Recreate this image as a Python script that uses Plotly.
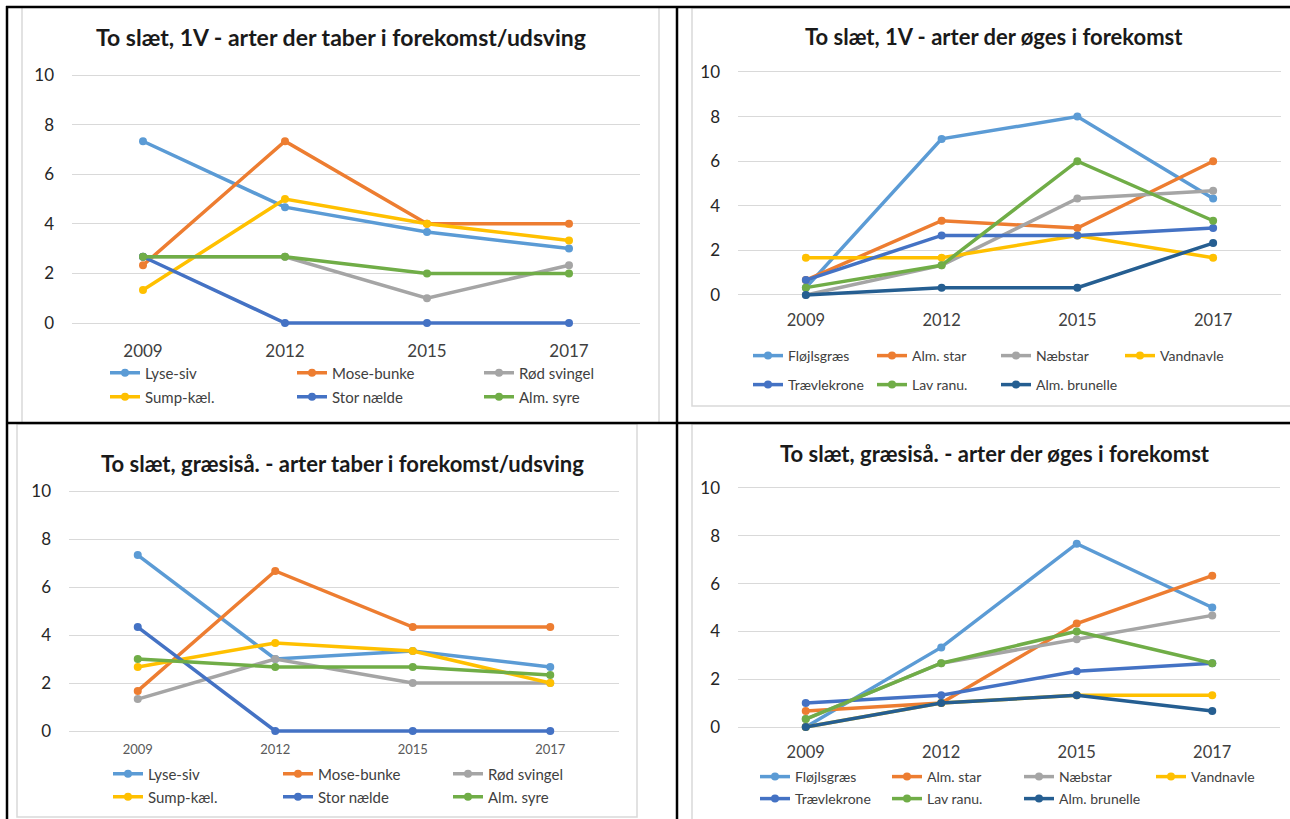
import plotly.graph_objects as go

W, H = 1290, 819

years = ["2009", "2012", "2015", "2017"]

# species that decline / fluctuate
taber_names = ["Lyse-siv", "Mose-bunke", "Rød svingel", "Sump-kæl.", "Stor nælde", "Alm. syre"]
# species that increase
oeges_names = ["Fløjlsgræs", "Alm. star", "Næbstar", "Vandnavle", "Trævlekrone", "Lav ranu.", "Alm. brunelle"]

# To slæt, 1V - arter der taber i forekomst/udsving
lyse_siv_1v = [7.33, 4.67, 3.67, 3.0]
mose_bunke_1v = [2.33, 7.33, 4.0, 4.0]
roed_svingel_1v = [2.67, 2.67, 1.0, 2.33]
sump_kael_1v = [1.33, 5.0, 4.0, 3.33]
stor_naelde_1v = [2.67, 0, 0, 0]
alm_syre_1v = [2.67, 2.67, 2.0, 2.0]

# To slæt, 1V - arter der øges i forekomst
floejlsgraes_1v = [0.33, 7.0, 8.0, 4.33]
alm_star_1v = [0.67, 3.33, 3.0, 6.0]
naebstar_1v = [0, 1.33, 4.33, 4.67]
vandnavle_1v = [1.67, 1.67, 2.67, 1.67]
traevlekrone_1v = [0.67, 2.67, 2.67, 3.0]
lav_ranu_1v = [0.33, 1.33, 6.0, 3.33]
alm_brunelle_1v = [0, 0.33, 0.33, 2.33]

# To slæt, græsiså. - arter taber i forekomst/udsving
lyse_siv_gr = [7.33, 3.0, 3.33, 2.67]
mose_bunke_gr = [1.67, 6.67, 4.33, 4.33]
roed_svingel_gr = [1.33, 3.0, 2.0, 2.0]
sump_kael_gr = [2.67, 3.67, 3.33, 2.0]
stor_naelde_gr = [4.33, 0, 0, 0]
alm_syre_gr = [3.0, 2.67, 2.67, 2.33]

# To slæt, græsiså. - arter der øges i forekomst
floejlsgraes_gr = [0, 3.33, 7.67, 5.0]
alm_star_gr = [0.67, 1.0, 4.33, 6.33]
naebstar_gr = [0.33, 2.67, 3.67, 4.67]
vandnavle_gr = [0, 1.0, 1.33, 1.33]
traevlekrone_gr = [1.0, 1.33, 2.33, 2.67]
lav_ranu_gr = [0.33, 2.67, 4.0, 2.67]
alm_brunelle_gr = [0, 1.0, 1.33, 0.67]

colors = ["#5B9BD5", "#ED7D31", "#A5A5A5", "#FFC000", "#4472C4", "#70AD47", "#255E91"]

FONT = "Lato"
TXT = "#404040"
PAD = 0.25  # extra y-range so lines sitting on 0 aren't half clipped


def fx(x):
    return x / W


def fy(y):
    return 1 - y / H


panels = [
    dict(title="To slæt, 1V - arter der taber i forekomst/udsving",
         names=taber_names,
         series=[lyse_siv_1v, mose_bunke_1v, roed_svingel_1v, sump_kael_1v, stor_naelde_1v, alm_syre_1v],
         box=(72, 640, 75, 323), title_at=(341, 37), title_size=23, year=17, year_col=TXT, year_off=10,
         per_row=3, rows=(373, 397), leg_x=105, col_w=187, leg_font=15),
    dict(title="To slæt, 1V - arter der øges i forekomst",
         names=oeges_names,
         series=[floejlsgraes_1v, alm_star_1v, naebstar_1v, vandnavle_1v, traevlekrone_1v, lav_ranu_1v, alm_brunelle_1v],
         box=(738, 1281, 72, 295), title_at=(994, 37), title_size=22, year=16.5, year_col=TXT, year_off=8,
         per_row=4, rows=(356, 385), leg_x=748, col_w=124, leg_font=14),
    dict(title="To slæt, græsiså. - arter taber i forekomst/udsving",
         names=taber_names,
         series=[lyse_siv_gr, mose_bunke_gr, roed_svingel_gr, sump_kael_gr, stor_naelde_gr, alm_syre_gr],
         box=(69, 619, 491, 731), title_at=(342, 463), title_size=22, year=13, year_col="#595959", year_off=3,
         per_row=3, rows=(774, 797), leg_x=108, col_w=170, leg_font=15),
    dict(title="To slæt, græsiså. - arter der øges i forekomst",
         names=oeges_names,
         series=[floejlsgraes_gr, alm_star_gr, naebstar_gr, vandnavle_gr, traevlekrone_gr, lav_ranu_gr, alm_brunelle_gr],
         box=(738, 1280, 488, 727), title_at=(995, 453), title_size=22, year=16.5, year_col=TXT, year_off=8,
         per_row=4, rows=(777, 799), leg_x=755, col_w=132, leg_font=14),
]

fig = go.Figure()
layout = {}
annotations = []
leg_n = 0

for i, p in enumerate(panels):
    k = "" if i == 0 else str(i + 1)
    x0, x1, ytop, ybot = p["box"]
    unit = (ybot - ytop) / 10
    leg_ids = []
    for r, yrow in enumerate(p["rows"]):
        leg_n += 1
        lid = "legend" if leg_n == 1 else f"legend{leg_n}"
        leg_ids.append(lid)
        layout[lid] = dict(
            orientation="h", x=fx(p["leg_x"]), xanchor="left",
            y=fy(yrow), yanchor="middle",
            entrywidth=p["col_w"] - 45, entrywidthmode="pixels",
            font=dict(family=FONT, size=p["leg_font"], color=TXT),
            bgcolor="rgba(0,0,0,0)", borderwidth=0,
        )
    for j, (name, vals) in enumerate(zip(p["names"], p["series"])):
        fig.add_trace(go.Scatter(
            x=years, y=vals, name=name, mode="lines+markers",
            line=dict(color=colors[j], width=3.5),
            marker=dict(color=colors[j], size=8),
            xaxis="x" + k, yaxis="y" + k, cliponaxis=False,
            legend=leg_ids[j // p["per_row"]],
        ))
    layout["xaxis" + k] = dict(
        domain=[fx(x0), fx(x1)], anchor="y" + k, type="category",
        range=[-0.5, 3.5], showgrid=False, zeroline=False, showline=False,
        ticks="", ticklabelstandoff=p["year_off"], automargin=False,
        tickfont=dict(family=FONT, size=p["year"], color=p["year_col"]),
    )
    layout["yaxis" + k] = dict(
        domain=[fy(ybot + PAD * unit), fy(ytop - PAD * unit)], anchor="x" + k,
        range=[-PAD, 10 + PAD],
        tickvals=[0, 2, 4, 6, 8, 10], showgrid=True, gridcolor="#D9D9D9",
        gridwidth=1, zeroline=False, showline=False, ticks="",
        ticklabelstandoff=17, automargin=False,
        tickfont=dict(family=FONT, size=17, color="#262626"),
    )
    annotations.append(dict(
        text=p["title"], x=fx(p["title_at"][0]), y=fy(p["title_at"][1]),
        xref="paper", yref="paper", xanchor="center", yanchor="middle",
        showarrow=False, font=dict(family=FONT, size=p["title_size"], color="#1a1a1a", weight="bold"),
    ))

shapes = []
# light chart-area frames
for bx0, bx1, by0, by1 in [(22, 659, 7, 423), (692, 1300, 8, 406), (17, 637, 424, 817), (692, 1300, 424, 830)]:
    shapes.append(dict(type="rect", xref="paper", yref="paper",
                       x0=fx(bx0), x1=fx(bx1), y0=fy(by1), y1=fy(by0),
                       line=dict(color="#D9D9D9", width=1.5), layer="below"))
# black table borders
for lx0, ly0, lx1, ly1 in [(7, 6, 7, 830), (6, 7, 1300, 7), (677, 6, 677, 830), (6, 423, 1300, 423)]:
    shapes.append(dict(type="line", xref="paper", yref="paper",
                       x0=fx(lx0), x1=fx(lx1), y0=fy(ly0), y1=fy(ly1),
                       line=dict(color="black", width=2.5)))

fig.update_layout(
    template="none",
    width=W, height=H, margin=dict(l=0, r=0, t=0, b=0, autoexpand=False),
    paper_bgcolor="white", plot_bgcolor="white",
    annotations=annotations, shapes=shapes, showlegend=True,
    **layout,
)

# page body has an 8px default margin; drop it so the figure sits at 0,0
fig.write_html("out.html", config={"displayModeBar": False},
               post_script="document.body.style.margin = '0';")
